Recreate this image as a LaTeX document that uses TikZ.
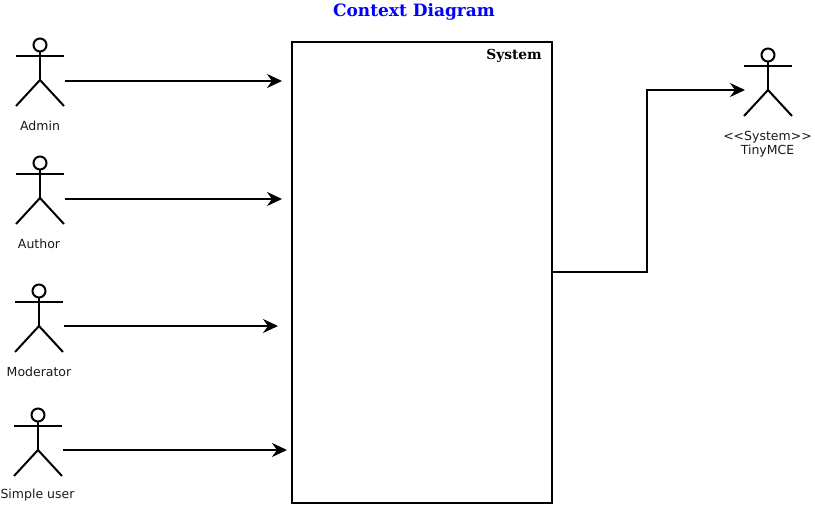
\documentclass[tikz,border=0pt]{standalone}
\usepackage{fontspec}
\setmainfont{DejaVu Sans}
\newfontfamily\titlefont{DejaVu Serif}
\usetikzlibrary{arrows.meta}
\tikzset{
  line/.style={line width=2pt},
  flow/.style={line, -{Stealth[length=15pt,width=14pt,inset=5pt]}},
  caption/.style={font=\fontsize{12.5}{14.6}\selectfont, text=black!90, align=center, inner sep=0pt},
  heading/.style={font=\titlefont\bfseries\fontsize{17}{20}\selectfont, inner sep=0pt},
  stick/.pic={
    \draw[line] (0,-10) circle (6.5);
    \draw[line] (0,-3.5) -- (0,25);
    \draw[line] (-24,1) -- (24,1);
    \draw[line] (-24,51) -- (0,25) -- (24,51);
    \coordinate (hand) at (25,26);
  }
}
\begin{document}
\begin{tikzpicture}[x=1pt,y=-1pt]

\useasboundingbox (0,0) rectangle (815,506);

\node[heading, text=blue] (title) at (414,11.5) {Context Diagram};

\node[draw, line, minimum width=260pt, minimum height=461pt, inner sep=0pt] (system) at (422,272.5) {};
\node[heading, font=\titlefont\bfseries\fontsize{13.8}{16}\selectfont, anchor=east] (systemname) at (542,56) {System};

\pic (admin) at (40,55) {stick};
\pic (author) at (40,173) {stick};
\pic (moderator) at (39,301) {stick};
\pic (simple) at (38,425) {stick};
\pic (tiny) at (768,65) {stick};

\node[caption] (adminname) at (40,125.5) {Admin};
\node[caption] (authorname) at (39,243.5) {Author};
\node[caption] (moderatorname) at (39,371.5) {Moderator};
\node[caption] (simplename) at (37.5,495.5) {Simple user};
\node[caption] (tinyname) at (767.5,144) {{<}{<}System{>}{>}\\TinyMCE};

\coordinate (adminend) at (282,81);
\coordinate (authorend) at (282,199);
\coordinate (moderatorend) at (278,326);
\coordinate (simpleend) at (287,450);
\coordinate (tinyend) at (745,90);
\coordinate (bend) at (647,272);

\draw[flow] (adminhand) -- (adminend);
\draw[flow] (authorhand) -- (authorend);
\draw[flow] (moderatorhand |- moderatorend) -- (moderatorend);
\draw[flow] (simplehand |- simpleend) -- (simpleend);
\draw[flow] (system.east |- bend) -- (bend) |- (tinyend);

\end{tikzpicture}
\end{document}
